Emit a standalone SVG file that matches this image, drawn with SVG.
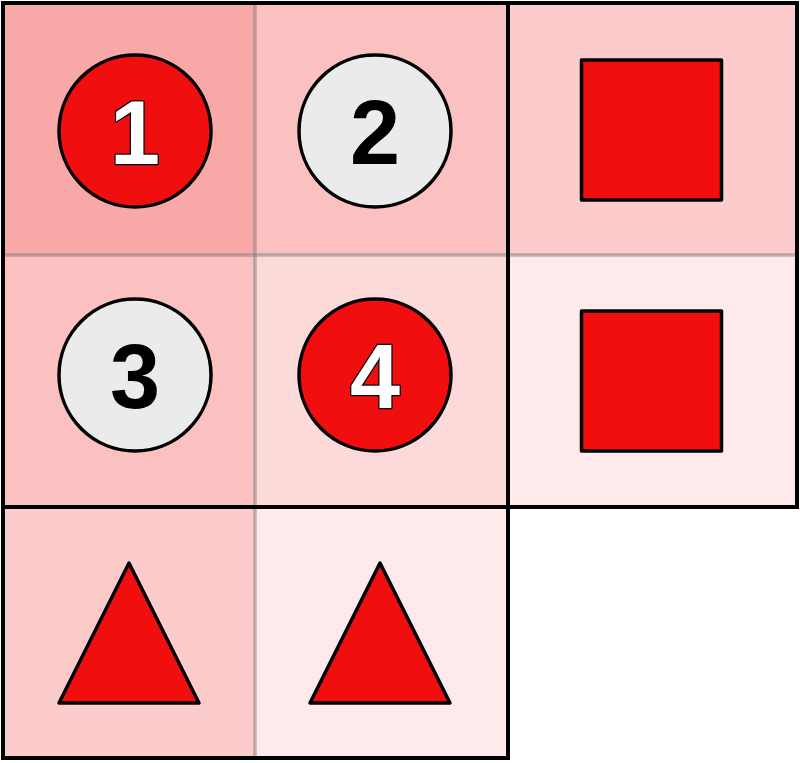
<svg xmlns="http://www.w3.org/2000/svg" width="800" height="763" viewBox="0 0 800 763">
<style>
.red{fill:#f10e0e;stroke:#000;stroke-width:3.5;stroke-linejoin:round}
.grey{fill:#ebebeb;stroke:#000;stroke-width:3.5}
.num{font-family:"Liberation Sans",Arial,sans-serif;font-weight:bold;font-size:90px;text-anchor:middle}
.w{fill:#fff;stroke:#000;stroke-width:2.5;paint-order:stroke;stroke-linejoin:round}
.b{fill:#000}
.thin{stroke:#7a7a7a;stroke-opacity:0.5;stroke-width:3.5;fill:none}
.thick{stroke:#000;stroke-width:4;fill:none}
</style>
<g id="cells">
<rect x="4" y="4" width="251" height="251" fill="#f9a8a8"/>
<rect x="255" y="4" width="253" height="251" fill="#fbc0c0"/>
<rect x="508" y="4" width="289" height="251" fill="#fccccc"/>
<rect x="4" y="255" width="251" height="252" fill="#fbc0c0"/>
<rect x="255" y="255" width="253" height="252" fill="#fddada"/>
<rect x="508" y="255" width="289" height="252" fill="#feeaea"/>
<rect x="4" y="507" width="251" height="251" fill="#fccccc"/>
<rect x="255" y="507" width="253" height="251" fill="#feeaea"/>
</g>
<g id="connectors">
<line class="thin" x1="255" y1="4" x2="255" y2="758"/>
<line class="thin" x1="4" y1="255" x2="797" y2="255"/>
<path class="thick" d="M3,3 H797 V507 H508 V758 H3 Z"/>
<line class="thick" x1="508" y1="3" x2="508" y2="758"/>
<line class="thick" x1="3" y1="507" x2="508" y2="507"/>
</g>
<g id="node1"><circle class="red" cx="135" cy="131" r="76"/><text class="num w" x="135" y="164">1</text></g>
<g id="node2"><circle class="grey" cx="375" cy="131" r="76"/><text class="num b" x="375" y="164">2</text></g>
<g id="node3"><circle class="grey" cx="135" cy="375" r="76"/><text class="num b" x="135" y="408">3</text></g>
<g id="node4"><circle class="red" cx="375" cy="375" r="76"/><text class="num w" x="375" y="408">4</text></g>
<g id="square1"><rect class="red" x="581.5" y="60" width="140" height="140"/></g>
<g id="square2"><rect class="red" x="581.5" y="311" width="140" height="140"/></g>
<g id="triangle1"><polygon class="red" points="129,563 199,703 59,703"/></g>
<g id="triangle2"><polygon class="red" points="380,563 450,703 310,703"/></g>
</svg>
